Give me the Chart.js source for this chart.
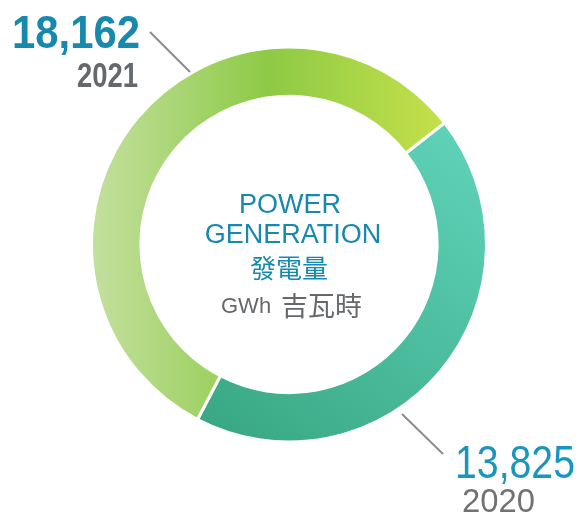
<!DOCTYPE html>
<html>
<head>
<meta charset="utf-8">
<script src="https://cdn.jsdelivr.net/npm/chart.js@4.4.0/dist/chart.umd.min.js"></script>
<style>
  html, body { margin: 0; padding: 0; background: #fff; }
  #wrap { width: 579px; height: 514px; }
</style>
</head>
<body>
<div id="wrap"><canvas id="grafico" width="579" height="514"></canvas></div>
<script>
const anos = ["2020", "2021"];
const valores = [13825, 18162];
const rotulos = ["13,825", "18,162"];

const azul = '#1789ad';
const cinza = '#66696c';
const fonteNum = "'Liberation Sans', Arial, sans-serif";
const fonteTxt = "'Liberation Sans', Arial, sans-serif";

// gradiente de cada fatia
function corFatia(context) {
  const chart = context.chart;
  const area = chart.chartArea;
  if (!area) return '#8ccb48';
  const ctx = chart.ctx;
  if (context.dataIndex === 0) {
    const g = ctx.createLinearGradient(area.right - 20, area.top + 90, area.left + 140, area.bottom);
    g.addColorStop(0, '#5fd2b9');
    g.addColorStop(1, '#39a883');
    return g;
  }
  const g = ctx.createLinearGradient(area.left, 0, area.right - 40, 0);
  g.addColorStop(0, '#c4e0a0');
  g.addColorStop(0.5, '#8dca45');
  g.addColorStop(1, '#c6e14a');
  return g;
}

// texto comprimido na largura pedida
function textoLargura(ctx, str, x, y, largura) {
  const w = ctx.measureText(str).width;
  ctx.save();
  ctx.translate(x, y);
  ctx.scale(largura / w, 1);
  ctx.fillText(str, 0, 0);
  ctx.restore();
}

// textos do centro e rótulos
const textos = {
  id: 'textos',
  afterDraw(chart) {
    const ctx = chart.ctx;
    const meta = chart.getDatasetMeta(0);
    const cx = meta.data[0].x;
    const cy = meta.data[0].y;
    ctx.save();
    ctx.textAlign = 'center';
    ctx.textBaseline = 'alphabetic';
    ctx.fillStyle = azul;
    ctx.font = "27px " + fonteTxt;
    ctx.fillText("POWER", cx + 1, cy - 32);
    ctx.fillText("GENERATION", cx + 4, cy - 2);
    ctx.font = "26px 'Noto Sans CJK TC', sans-serif";
    ctx.fillText("發電量", cx, cy + 33);

    ctx.textAlign = 'left';
    ctx.fillStyle = cinza;
    ctx.font = "22px " + fonteTxt;
    ctx.fillText("GWh", cx - 68, cy + 68);
    ctx.font = "27px 'Noto Sans CJK TC', sans-serif";
    ctx.fillText("吉瓦時", cx - 8, cy + 71);

    // linhas de chamada
    ctx.strokeStyle = '#8a8c8e';
    ctx.lineWidth = 2;
    ctx.beginPath();
    ctx.moveTo(150, 32); ctx.lineTo(190, 72);
    ctx.moveTo(402, 414); ctx.lineTo(443, 454);
    ctx.stroke();

    // 2021
    ctx.fillStyle = azul;
    ctx.font = "bold 46px " + fonteNum;
    textoLargura(ctx, rotulos[1], 12, 48, 128);
    ctx.fillStyle = cinza;
    ctx.font = "bold 35px " + fonteNum;
    textoLargura(ctx, anos[1], 77, 87, 61);

    // 2020
    ctx.fillStyle = '#1a95bb';
    ctx.font = "46px " + fonteNum;
    textoLargura(ctx, rotulos[0], 455, 478, 120);
    ctx.fillStyle = '#707274';
    ctx.font = "34px " + fonteNum;
    textoLargura(ctx, anos[0], 462, 512, 73);
    ctx.restore();
  }
};

new Chart(document.getElementById('grafico'), {
  type: 'doughnut',
  data: {
    labels: anos,
    datasets: [{
      data: valores,
      backgroundColor: corFatia,
      borderColor: '#ffffff',
      borderWidth: 3
    }]
  },
  options: {
    responsive: false,
    animation: false,
    rotation: 52,
    cutout: '75%',
    layout: { padding: { top: 45, bottom: 70, left: 90, right: 91 } },
    plugins: { legend: { display: false }, tooltip: { enabled: false } }
  },
  plugins: [textos]
});
</script>
</body>
</html>
